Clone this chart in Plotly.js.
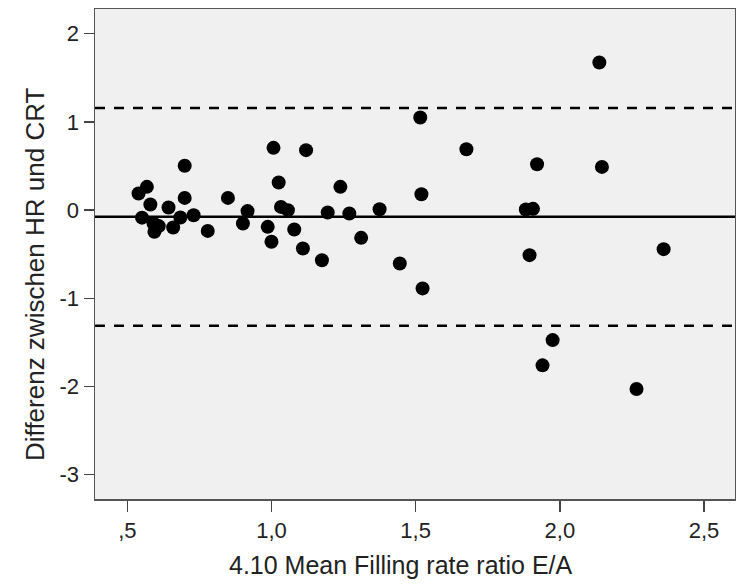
<!DOCTYPE html>
<html>
<head>
<meta charset="utf-8">
<script src="https://cdn.plot.ly/plotly-3.0.1.min.js"></script>
<style>html,body{margin:0;padding:0;background:#fff;}#chart{width:736px;height:584px;}</style>
</head>
<body>
<div id="chart"></div>
<script>
// Mean filling rate ratio E/A (x) and difference HR - CRT (y)
const meanRatio = [0.539,0.568,0.580,0.551,0.591,0.609,0.594,0.643,0.659,0.684,0.699,0.699,0.730,0.779,
  0.849,0.901,0.917,
  1.007,1.120,1.025,1.033,1.057,0.987,1.000,1.079,1.109,1.175,1.195,1.239,1.270,1.311,1.375,1.445,
  1.516,1.520,1.524,1.676,1.921,2.146,1.882,1.907,1.895,2.360,2.137,1.975,1.940,2.266];
const difference = [0.188,0.263,0.063,-0.086,-0.152,-0.182,-0.247,0.029,-0.197,-0.084,0.503,0.138,-0.058,-0.236,
  0.138,-0.152,-0.012,
  0.705,0.679,0.313,0.036,-0.001,-0.190,-0.360,-0.220,-0.435,-0.568,-0.027,0.263,-0.039,-0.315,0.010,-0.605,
  1.049,0.180,-0.888,0.690,0.520,0.489,0.007,0.014,-0.511,-0.443,1.672,-1.474,-1.760,-2.029];
const meanDiff = -0.076;
const limitsOfAgreement = [1.158, -1.310];
const xTickVals = [0.5, 1.0, 1.5, 2.0, 2.5];
const xTickText = [",5", "1,0", "1,5", "2,0", "2,5"];
const yTickVals = [2, 1, 0, -1, -2, -3];
const yTickText = ["2", "1", "0", "-1", "-2", "-3"];
const xTitle = '4.10 Mean Filling rate ratio E/A';
const yTitle = 'Differenz zwischen HR und CRT';

const shapes = [{
  type: 'line', xref: 'paper', yref: 'y', x0: 0, x1: 1, y0: meanDiff, y1: meanDiff,
  line: {color: '#000', width: 2.5}
}].concat(limitsOfAgreement.map(v => ({
  type: 'line', xref: 'paper', yref: 'y', x0: 0, x1: 1, y0: v, y1: v,
  line: {color: '#000', width: 2.5, dash: '10px,9px'}
})));

const trace = {
  x: meanRatio, y: difference, type: 'scatter', mode: 'markers',
  marker: {color: '#000', size: 14, line: {width: 0}},
  hoverinfo: 'x+y'
};

const font = "Liberation Sans, Arial, sans-serif";
const layout = {
  width: 736, height: 584,
  margin: {l: 95, r: 1, t: 9, b: 85, pad: 0},
  paper_bgcolor: '#ffffff', plot_bgcolor: '#f0f0f0',
  showlegend: false,
  shapes: shapes,
  annotations: [
    {text: xTitle, xref: 'paper', yref: 'paper', x: 0.478, y: -0.1347, xanchor: 'center', yanchor: 'middle',
     showarrow: false, font: {family: font, size: 25, color: '#222'}},
    {text: yTitle, xref: 'paper', yref: 'paper', x: -0.094, y: 0.459, xanchor: 'center', yanchor: 'middle',
     textangle: -90, showarrow: false, font: {family: font, size: 26, color: '#222'}}
  ],
  xaxis: {
    range: [0.388, 2.6075], tickvals: xTickVals, ticktext: xTickText,
    ticks: 'outside', ticklen: 11, tickwidth: 1.5, tickcolor: '#444',
    showgrid: false, zeroline: false, showline: true, mirror: true,
    linecolor: '#555', linewidth: 1.5, automargin: false,
    tickfont: {family: font, size: 22, color: '#222'}
  },
  yaxis: {
    range: [-3.275, 2.279], tickvals: yTickVals, ticktext: yTickText,
    ticks: 'outside', ticklen: 10, tickwidth: 1.5, tickcolor: '#444',
    showgrid: false, zeroline: false, showline: true, mirror: true,
    linecolor: '#555', linewidth: 1.5, automargin: false,
    tickfont: {family: font, size: 22, color: '#222'}
  }
};

Plotly.newPlot('chart', [trace], layout, {staticPlot: true, displayModeBar: false});
</script>
</body>
</html>
